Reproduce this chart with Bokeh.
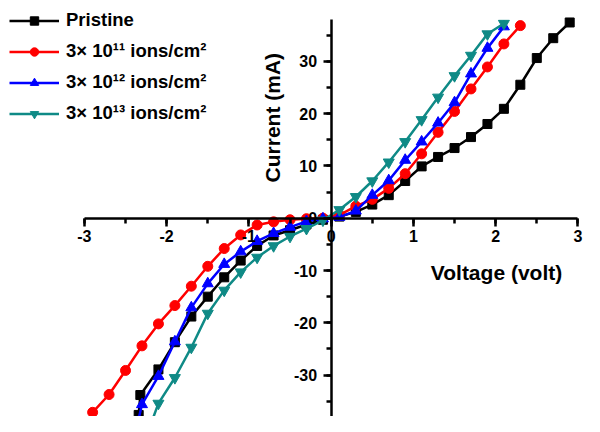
import math
from bokeh.plotting import figure
from bokeh.models import (LinearAxis, SingleIntervalTicker, Range1d, Label, Legend,
                          PrintfTickFormatter)
from bokeh.embed import file_html
from bokeh.resources import INLINE

# ---- data ----
v_pristine = [-2.34, -2.32, -2.1, -1.9, -1.7, -1.5, -1.3, -1.1, -0.9, -0.7, -0.5, -0.3, -0.1,
              0.1, 0.3, 0.5, 0.7, 0.9, 1.1, 1.3, 1.5, 1.7, 1.9, 2.1, 2.3, 2.5, 2.7, 2.9]
i_pristine = [-37.6, -33.8, -28.9, -23.7, -18.8, -15.0, -11.3, -8.1, -5.3, -3.3, -2.3, -1.2, -0.3,
              0.3, 1.2, 2.6, 4.4, 7.1, 9.9, 11.7, 13.4, 15.5, 18.0, 20.9, 25.5, 30.6, 34.4, 37.4]

v_e11 = [-2.9, -2.7, -2.5, -2.3, -2.1, -1.9, -1.7, -1.5, -1.3, -1.1, -0.9, -0.7, -0.5, -0.3, -0.1,
         0.1, 0.3, 0.5, 0.7, 0.9, 1.1, 1.3, 1.5, 1.7, 1.9, 2.1, 2.3]
i_e11 = [-37.1, -33.7, -29.1, -24.4, -20.2, -16.7, -13.0, -9.2, -5.8, -3.2, -1.3, -0.7, -0.3, -0.1, 0.0,
         0.6, 2.3, 3.6, 5.7, 8.5, 12.3, 16.4, 20.4, 24.7, 28.9, 33.3, 36.8]

v_e12 = [-2.35, -2.3, -2.1, -1.9, -1.7, -1.5, -1.3, -1.1, -0.9, -0.7, -0.5, -0.3, -0.1,
         0.1, 0.3, 0.5, 0.7, 0.9, 1.1, 1.3, 1.5, 1.7, 1.9, 2.1]
i_e12 = [-39.0, -35.6, -30.2, -23.6, -17.1, -12.5, -8.8, -6.4, -4.4, -2.9, -1.7, -0.6, -0.1,
         0.2, 1.4, 4.4, 7.2, 11.1, 14.6, 18.2, 22.1, 27.6, 32.5, 36.6]

v_e13 = [-2.3, -2.1, -1.9, -1.7, -1.5, -1.3, -1.1, -0.9, -0.7, -0.5, -0.3, -0.1,
         0.1, 0.3, 0.5, 0.7, 0.9, 1.1, 1.3, 1.5, 1.7, 1.9, 2.1]
i_e13 = [-44.0, -35.4, -30.5, -24.7, -18.2, -13.8, -10.3, -7.5, -5.3, -3.5, -2.0, -0.4,
         1.6, 4.1, 7.1, 10.7, 14.6, 18.8, 23.1, 27.2, 31.1, 35.2, 37.2]

labels = ["Pristine", "3\u00d7 10\u00b9\u00b9 ions/cm\u00b2",
          "3\u00d7 10\u00b9\u00b2 ions/cm\u00b2", "3\u00d7 10\u00b9\u00b3 ions/cm\u00b2"]
colors = ["#000000", "#ff0000", "#0000ff", "#0f8a86"]
markers = ["square", "circle", "triangle", "inverted_triangle"]
msizes = [9, 10, 11, 11]

x_title = "Voltage (volt)"
y_title = "Current (mA)"

FONT = "Liberation Sans"

p = figure(width=584, height=416, output_backend="svg", toolbar_location=None,
           x_axis_type=None, y_axis_type=None,
           x_range=Range1d(-4.02, 3.08), y_range=Range1d(-37.9, 41.6),
           min_border=0)
p.outline_line_color = None
p.background_fill_color = "white"
p.border_fill_color = "white"
p.xgrid.visible = False
p.ygrid.visible = False

# axes crossing at the origin
xaxis = LinearAxis(fixed_location=0, bounds=(-3, 3),
                   ticker=SingleIntervalTicker(interval=1, num_minor_ticks=2),
                   formatter=PrintfTickFormatter(format="%d"))
yaxis = LinearAxis(fixed_location=0, bounds=(-37.9, 37.9),
                   ticker=SingleIntervalTicker(interval=10, num_minor_ticks=2),
                   formatter=PrintfTickFormatter(format="%d"))
for ax in (xaxis, yaxis):
    ax.axis_line_width = 2.5
    ax.axis_line_color = "black"
    ax.major_tick_line_width = 2.5
    ax.minor_tick_line_width = 2.5
    ax.major_tick_out = 8
    ax.major_tick_in = 0
    ax.minor_tick_out = 5
    ax.minor_tick_in = 0
    ax.major_label_text_font = FONT
    ax.major_label_text_font_style = "bold"
    ax.major_label_text_font_size = "16px"
    ax.major_label_text_color = "black"
xaxis.major_label_standoff = 4
yaxis.major_label_standoff = 6
p.add_layout(xaxis, "below")
p.add_layout(yaxis, "left")

series = [(v_pristine, i_pristine), (v_e11, i_e11), (v_e12, i_e12), (v_e13, i_e13)]
items = []
for (vx, iy), lab, col, mk, ms in zip(series, labels, colors, markers, msizes):
    r1 = p.line(vx, iy, line_color=col, line_width=2.5)
    r2 = p.scatter(vx, iy, marker=mk, size=ms, fill_color=col, line_color=col)
    items.append((lab, [r1, r2]))

legend = Legend(items=items, location="top_left", margin=9, padding=9,
                glyph_width=50, glyph_height=21, label_height=21, spacing=9,
                label_standoff=7, border_line_color=None, background_fill_alpha=0,
                label_text_font=FONT, label_text_font_style="bold",
                label_text_font_size="18.5px", label_text_color="black")
p.add_layout(legend)

p.add_layout(Label(x=2.01, y=-10.3, text=x_title, text_align="center",
                   text_baseline="middle", text_font=FONT, text_font_style="bold",
                   text_font_size="21px", text_color="black"))
p.add_layout(Label(x=-0.71, y=19.2, text=y_title, angle=math.pi / 2,
                   text_align="center", text_baseline="middle", text_font=FONT,
                   text_font_style="bold", text_font_size="21px", text_color="black"))

open("out.html", "w").write(file_html(p, INLINE))
